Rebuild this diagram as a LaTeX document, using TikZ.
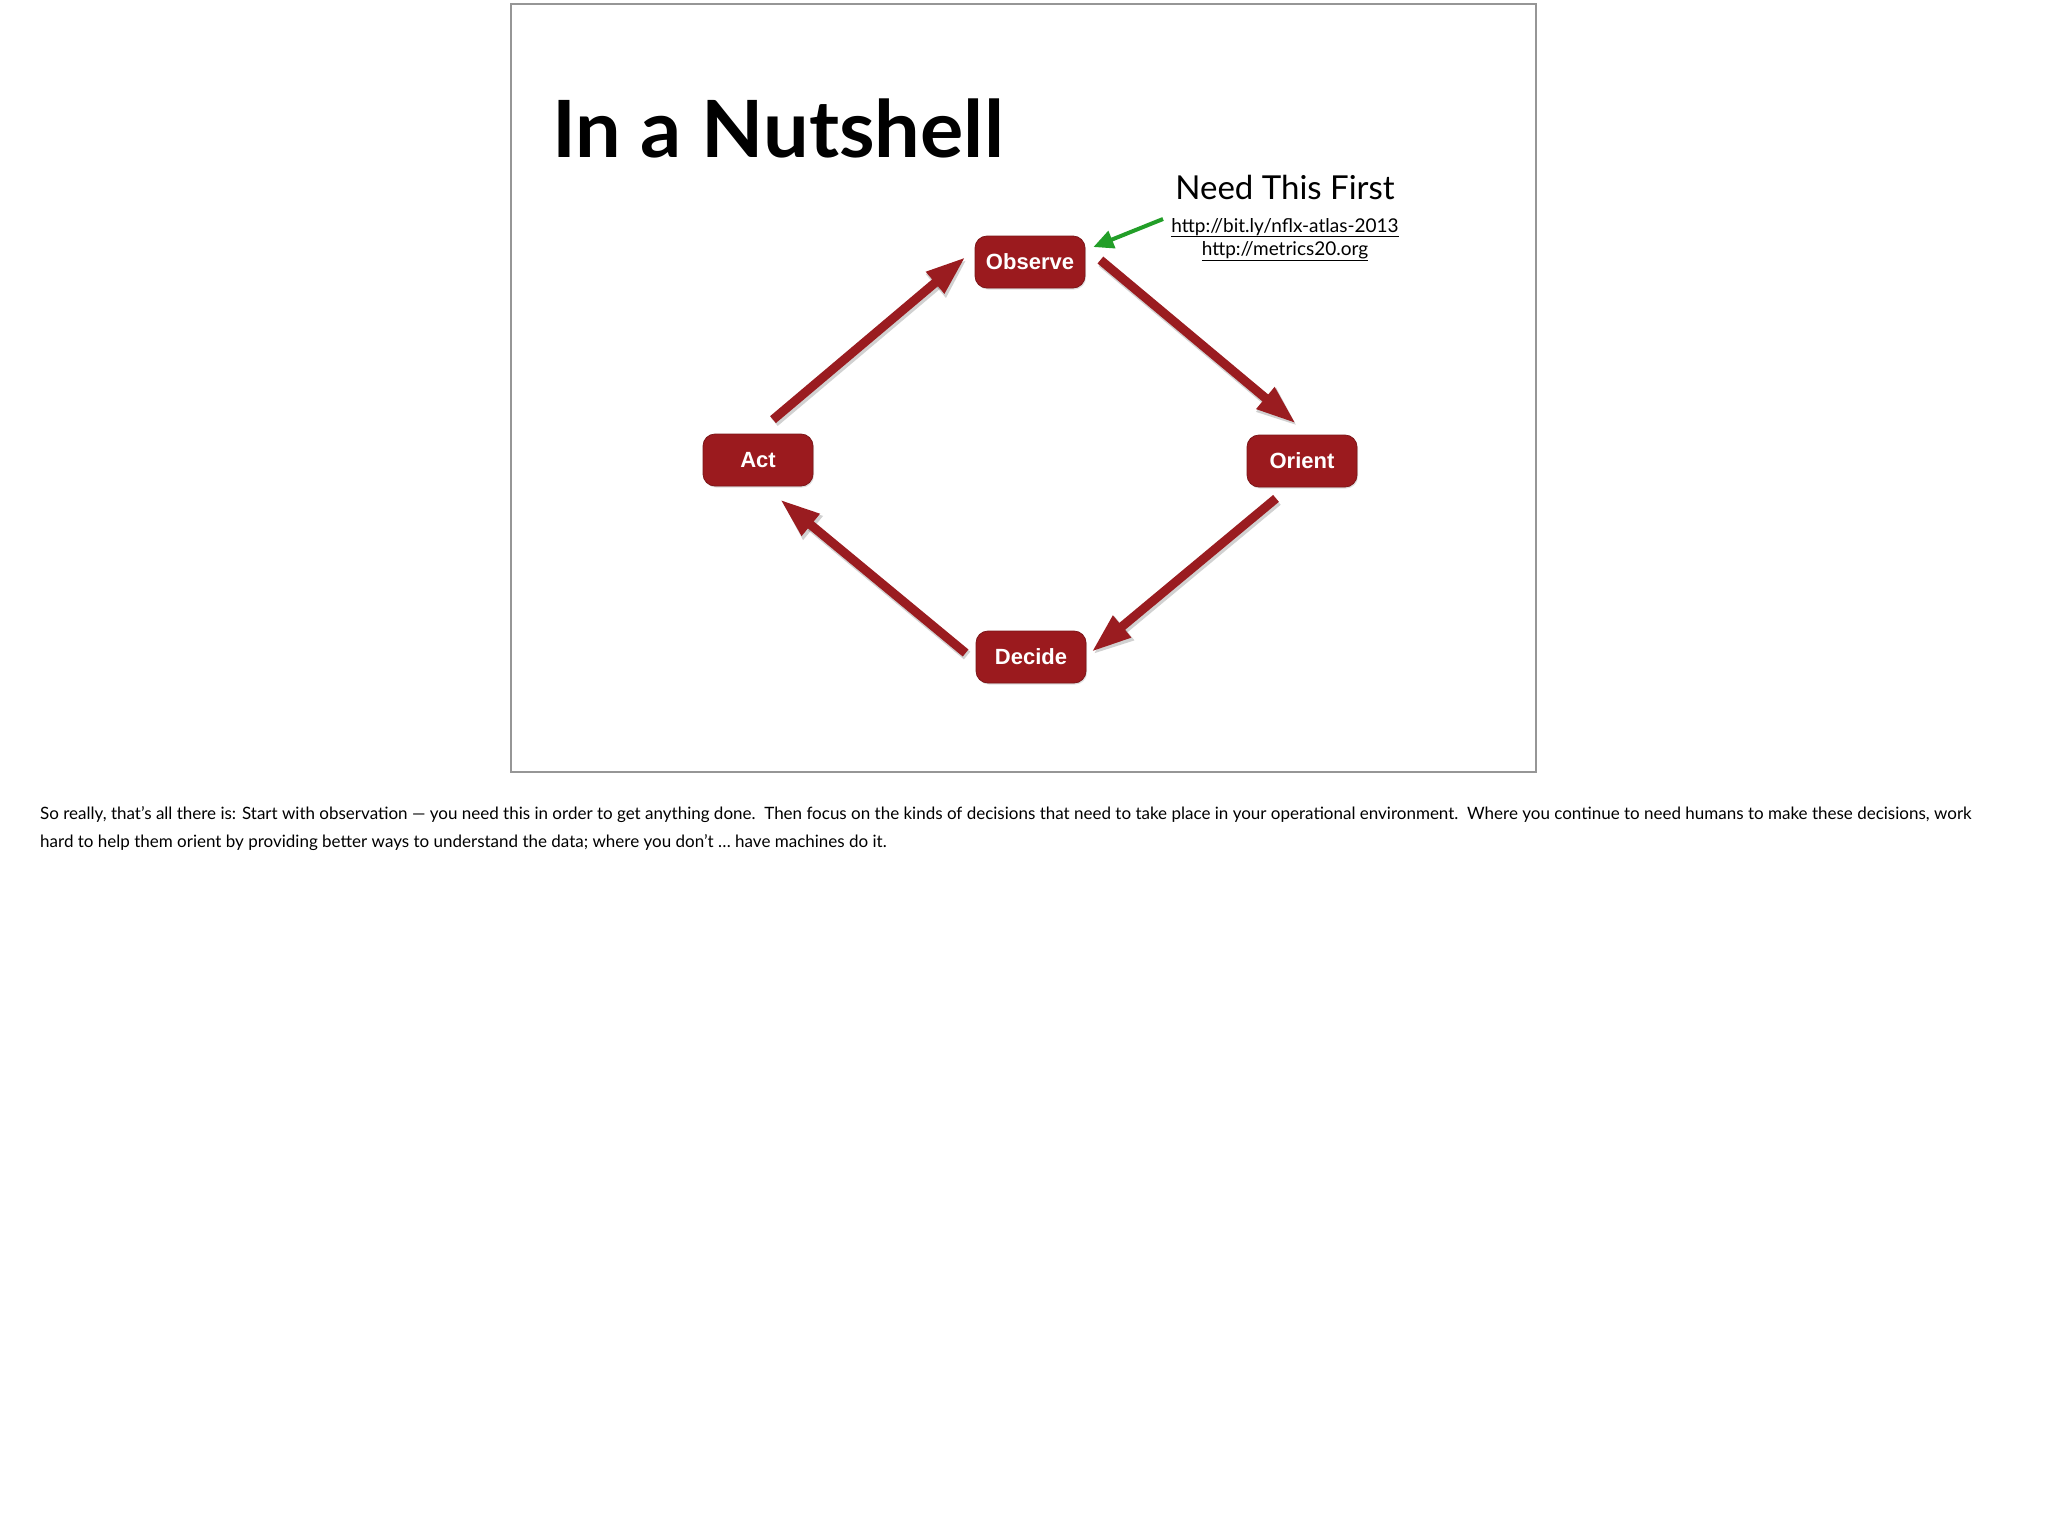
\documentclass[tikz,border=0pt]{standalone}
\usepackage{fontspec}
\setmainfont{Lato}
\newfontfamily\nodefont{Liberation Sans}
\usetikzlibrary{arrows.meta,calc,shadows}
\definecolor{boxred}{RGB}{155,26,30}
\definecolor{arrred}{RGB}{154,28,32}
\definecolor{grn}{RGB}{34,158,40}
\definecolor{framegray}{RGB}{150,150,150}
\begin{document}
\begin{tikzpicture}[x=1pt,y=-1pt,
  box/.style={rectangle, rounded corners=12pt, fill=boxred, draw=boxred!80!black, line width=0.8pt,
    minimum width=110pt, minimum height=52pt, text=white, inner sep=0pt,
    font=\nodefont\bfseries\fontsize{22}{26}\selectfont,
    drop shadow={shadow xshift=1pt, shadow yshift=-1.5pt, opacity=0.25}},
  redarrow/.style={draw=arrred, line width=9pt, -{Triangle[length=40pt,width=26pt]}},
  shadowarrow/.style={draw=black, opacity=0.18, line width=10pt, -{Triangle[length=41pt,width=28pt]}},
  greenarrow/.style={draw=grn, line width=4pt, -{Triangle[length=20pt,width=18pt]}},
  urltext/.style={font=\fontsize{19}{22}\selectfont, anchor=base, inner sep=0pt},
  bodytext/.style={font=\fontsize{17.0}{20}\selectfont, anchor=base west, inner sep=0pt}
]
\useasboundingbox[fill=white] (0,0) rectangle (2048,1527);
% slide frame
\draw[framegray, line width=1.2pt] (511,4) rectangle (1536,772);
% title
\node[anchor=base west, inner sep=0pt, font=\bfseries\fontsize{79}{90}\selectfont] (title) at (552,157) {\scalebox{1.025}[1]{In a Nutshell}};
% need this first
\node[anchor=base, inner sep=0pt, font=\fontsize{33}{38}\selectfont] (need) at (1285,199) {Need This First};
\node[urltext] (url1) at (1285,232) {\underline{http://bit.ly/nflx-atlas-2013}};
\node[urltext] (url2) at (1285,255) {\underline{http://metrics20.org}};
% boxes
\node[box] (observe) at (1030,262) {Observe};
\node[box] (act) at (758,460) {Act};
\node[box] (orient) at (1302,461) {Orient};
\node[box] (decide) at (1031,657) {Decide};
% arrow endpoints
\coordinate (a1s) at ([xshift=15pt,yshift=14pt]act.north);
\coordinate (a1e) at ([xshift=-9pt,yshift=5pt]observe.west);
\coordinate (a2s) at ([xshift=15pt,yshift=2pt]observe.east);
\coordinate (a2e) at ([xshift=-6pt,yshift=11pt]orient.north);
\coordinate (a3s) at ([xshift=-26pt,yshift=-11pt]orient.south);
\coordinate (a3e) at ([xshift=5pt,yshift=5pt]decide.east);
\coordinate (a4s) at ([xshift=-10pt,yshift=4pt]decide.west);
\coordinate (a4e) at ([xshift=22pt,yshift=-13pt]act.south);
\coordinate (gs) at (1163,219);
\coordinate (ge) at ([xshift=8pt,yshift=15pt]observe.east);
% shadows of arrows
\begin{scope}[transform canvas={shift={(1.5pt,-2.5pt)}}]
\draw[shadowarrow] (a1s) -- (a1e);
\draw[shadowarrow] (a2s) -- (a2e);
\draw[shadowarrow] (a3s) -- (a3e);
\draw[shadowarrow] (a4s) -- (a4e);
\end{scope}
% arrows
\draw[redarrow] (a1s) -- (a1e);
\draw[redarrow] (a2s) -- (a2e);
\draw[redarrow] (a3s) -- (a3e);
\draw[redarrow] (a4s) -- (a4e);
\draw[greenarrow] (gs) -- (ge);
% notes text
\node[bodytext] (body1) at (40,819) {So really, that’s all there is: Start with observation — you need this in order to get anything done.\ \ Then focus on the kinds of decisions that need to take place in your operational environment.\ \ Where you continue to need humans to make these decisions, work};
\node[bodytext] (body2) at (40,847) {hard to help them orient by providing better ways to understand the data; where you don’t … have machines do it.};
\end{tikzpicture}
\end{document}
